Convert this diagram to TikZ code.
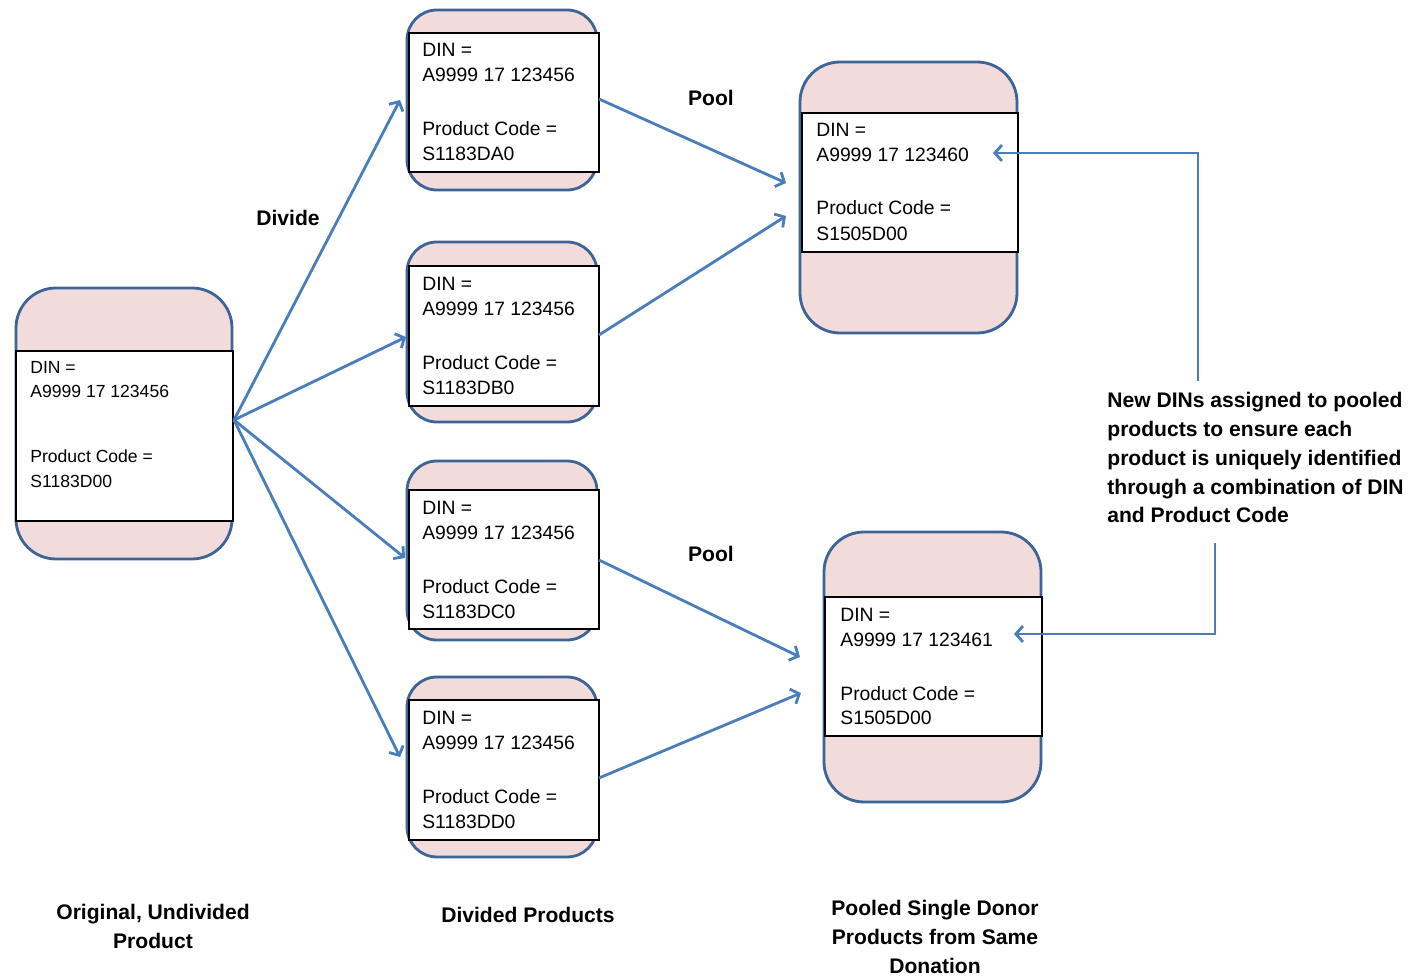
\documentclass[tikz,border=0pt]{standalone}
\usepackage{fontspec}
\setmainfont{Liberation Sans}
\usetikzlibrary{arrows.meta}
\definecolor{boxfill}{HTML}{F2DCDB}
\definecolor{boxline}{HTML}{3C6496}
\definecolor{arrowblue}{HTML}{4A7EBB}
\tikzset{
  outerbox/.style n args={3}{rectangle, draw=boxline, line width=1.6pt, fill=boxfill,
    rounded corners=#3, minimum width=#1*0.02cm, minimum height=#2*0.02cm, inner sep=0pt},
  innerbox/.style 2 args={rectangle, draw=black, line width=0.8pt, fill=white,
    minimum width=#1*0.02cm, minimum height=#2*0.02cm, inner sep=0pt},
  txt/.style={anchor=base west, inner sep=0pt, font=\fontsize{11}{13}\selectfont},
  smalltxt/.style={anchor=base west, inner sep=0pt, font=\fontsize{10}{12}\selectfont},
  lbl/.style={inner sep=0pt, font=\fontsize{12}{16.4}\selectfont\bfseries},
  conn/.style={draw=arrowblue, line width=1.6pt, -{Straight Barb[length=4pt,width=9pt]}}
}
\begin{document}
\begin{tikzpicture}[x=0.02cm,y=-0.02cm]
\useasboundingbox (0,0) rectangle (1412,979);

% Original product
\node[outerbox={216}{271}{0.8cm}] (orig) at (124,423.5) {};
\node[innerbox={217}{170}] (origin) at (124.5,436) {};
\node[smalltxt] (o1) at (30,374) {DIN =};
\node[smalltxt] (o2) at (30,398) {A9999 17 123456};
\node[smalltxt] (o3) at (30,462) {Product Code =};
\node[smalltxt] (o4) at (30,487) {S1183D00};

% Divided products
\node[outerbox={190}{180}{0.6cm}] (d1) at (502,100) {};
\node[innerbox={190}{139}] (d1in) at (504,102.5) {};
\node[txt] (d1a) at (422,57) {DIN =};
\node[txt] (d1b) at (422,82) {A9999 17 123456};
\node[txt] (d1c) at (422,136) {Product Code =};
\node[txt] (d1d) at (422,161) {S1183DA0};

\node[outerbox={190}{180}{0.6cm}] (d2) at (502,332) {};
\node[innerbox={190}{140}] (d2in) at (504,336) {};
\node[txt] (d2a) at (422,291) {DIN =};
\node[txt] (d2b) at (422,316) {A9999 17 123456};
\node[txt] (d2c) at (422,370) {Product Code =};
\node[txt] (d2d) at (422,395) {S1183DB0};

\node[outerbox={190}{179}{0.6cm}] (d3) at (502,550.5) {};
\node[innerbox={190}{139}] (d3in) at (504,559.5) {};
\node[txt] (d3a) at (422,514) {DIN =};
\node[txt] (d3b) at (422,539) {A9999 17 123456};
\node[txt] (d3c) at (422,593) {Product Code =};
\node[txt] (d3d) at (422,618) {S1183DC0};

\node[outerbox={190}{180}{0.6cm}] (d4) at (502,767) {};
\node[innerbox={190}{140}] (d4in) at (504,770) {};
\node[txt] (d4a) at (422,724) {DIN =};
\node[txt] (d4b) at (422,749) {A9999 17 123456};
\node[txt] (d4c) at (422,803) {Product Code =};
\node[txt] (d4d) at (422,828) {S1183DD0};

% Pooled products
\node[outerbox={217}{271}{0.8cm}] (p1) at (908.5,197.5) {};
\node[innerbox={216}{139}] (p1in) at (910,182.5) {};
\node[txt] (p1a) at (816,137) {DIN =};
\node[txt] (p1b) at (816,162) {A9999 17 123460};
\node[txt] (p1c) at (816,215) {Product Code =};
\node[txt] (p1d) at (816,241) {S1505D00};

\node[outerbox={217}{270}{0.8cm}] (p2) at (932.5,667) {};
\node[innerbox={217}{139}] (p2in) at (933.5,666.5) {};
\node[txt] (p2a) at (840,621) {DIN =};
\node[txt] (p2b) at (840,646) {A9999 17 123461};
\node[txt] (p2c) at (840,700) {Product Code =};
\node[txt] (p2d) at (840,724) {S1505D00};

% Labels
\node[lbl] (divide) at (288,218) {Divide};
\node[lbl] (pool1) at (711,98) {Pool};
\node[lbl] (pool2) at (711,554) {Pool};
\node[lbl, align=center] (lorig) at (153,926.5) {Original, Undivided\\Product};
\node[lbl, align=center] (ldiv) at (528,915) {Divided Products};
\node[lbl, align=center] (lpool) at (935,937) {Pooled Single Donor\\Products from Same\\Donation};
\node[lbl, align=left, anchor=north west] (note) at (1107,392)
  {New DINs assigned to pooled\\products to ensure each\\product is uniquely identified\\through a combination of DIN\\and Product Code};

% Connector coordinates
\coordinate (src) at (234,420);
\coordinate (t1) at (400,100);
\coordinate (t2) at (406,337);
\coordinate (t3) at (405,558);
\coordinate (t4) at (400,757);
\coordinate (s1) at (599,99);
\coordinate (s2) at (599,335);
\coordinate (s3) at (599,560);
\coordinate (s4) at (599,778);
\coordinate (u1) at (786,183);
\coordinate (u2) at (786,216);
\coordinate (u3) at (800,657);
\coordinate (u4) at (801,693);
\coordinate (n1) at (1198,381);
\coordinate (n1c) at (1198,153);
\coordinate (n1t) at (993,153);
\coordinate (n2) at (1215,543);
\coordinate (n2c) at (1215,634);
\coordinate (n2t) at (1014,634);

% Divide arrows
\draw[conn] (src) -- (t1);
\draw[conn] (src) -- (t2);
\draw[conn] (src) -- (t3);
\draw[conn] (src) -- (t4);
% Pool arrows
\draw[conn] (s1) -- (u1);
\draw[conn] (s2) -- (u2);
\draw[conn] (s3) -- (u3);
\draw[conn] (s4) -- (u4);
% Note arrows
\draw[conn] (n1) -- (n1c) -- (n1t);
\draw[conn] (n2) -- (n2c) -- (n2t);
\end{tikzpicture}
\end{document}
